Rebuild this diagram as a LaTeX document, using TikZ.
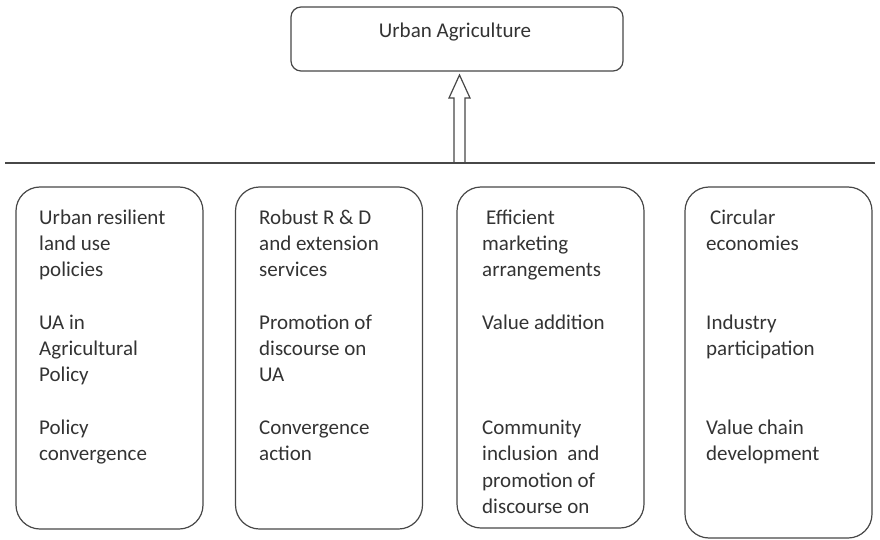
\documentclass[tikz,border=0pt]{standalone}
\usepackage{fontspec}
\setmainfont{Carlito}
\begin{document}
\begin{tikzpicture}[x=1pt, y=-1pt,
  ink/.style={draw=black!72, line width=1.2pt},
  pillar/.style={ink, rounded corners=24pt, minimum width=187pt, inner sep=0pt},
  topbox/.style={ink, rounded corners=10pt, minimum width=332pt, minimum height=64pt, inner sep=0pt},
  txt/.style={font=\fontsize{21}{26}\selectfont, text=black!80, inner sep=0pt}]
\useasboundingbox (0,0) rectangle (880,540);

% goal box
\node[topbox] (ua) at (457,39) {};
\node[txt, anchor=base] (uatext) at (455,38) {Urban Agriculture};

% dividing line
\coordinate (hw) at (5,163);
\coordinate (he) at (875,163);
\draw[ink] (hw) -- (he);

% hollow block arrow from the line up to the goal box
\coordinate (abase) at (459.5,163);
\coordinate (atip) at (459.5,75);
\draw[ink, line join=miter]
  ([xshift=-5.5pt]abase) -- ([xshift=-5.5pt, yshift=-23pt]atip) --
  ([xshift=-10.5pt, yshift=-23pt]atip) -- (atip) --
  ([xshift=10.5pt, yshift=-23pt]atip) -- ([xshift=5.5pt, yshift=-23pt]atip) --
  ([xshift=5.5pt]abase);

% pillar boxes
\node[pillar, minimum height=342pt] (p1) at (109.5,358) {};
\node[pillar, minimum height=342pt] (p2) at (329,358) {};
\node[pillar, minimum height=341pt] (p3) at (550.5,357.5) {};
\node[pillar, minimum height=351pt] (p4) at (778.5,362.5) {};

% pillar texts, one line per row (row spacing 26.3pt)
\foreach \r/\t [count=\i] in {0/Urban resilient, 1/land use, 2/policies,
    4/UA in, 5/Agricultural, 6/Policy, 8/Policy, 9/convergence}
  \node[txt, anchor=base west] (p1-\i) at (39, 224+\r*26.3) {\t};

\foreach \r/\t [count=\i] in {0/Robust R \& D, 1/and extension, 2/services,
    4/Promotion of, 5/discourse on, 6/UA, 8/Convergence, 9/action}
  \node[txt, anchor=base west] (p2-\i) at (259, 224+\r*26.3) {\t};

\foreach \r/\t [count=\i] in {0/\hspace{4pt}Efficient, 1/marketing, 2/arrangements,
    4/Value addition, 8/Community, 9/inclusion\ \ and, 10/promotion of, 11/discourse on}
  \node[txt, anchor=base west] (p3-\i) at (482, 224+\r*26.3) {\t};

\foreach \r/\t [count=\i] in {0/\hspace{4pt}Circular, 1/economies,
    4/Industry, 5/participation, 8/Value chain, 9/development}
  \node[txt, anchor=base west] (p4-\i) at (706, 224+\r*26.3) {\t};
\end{tikzpicture}
\end{document}
